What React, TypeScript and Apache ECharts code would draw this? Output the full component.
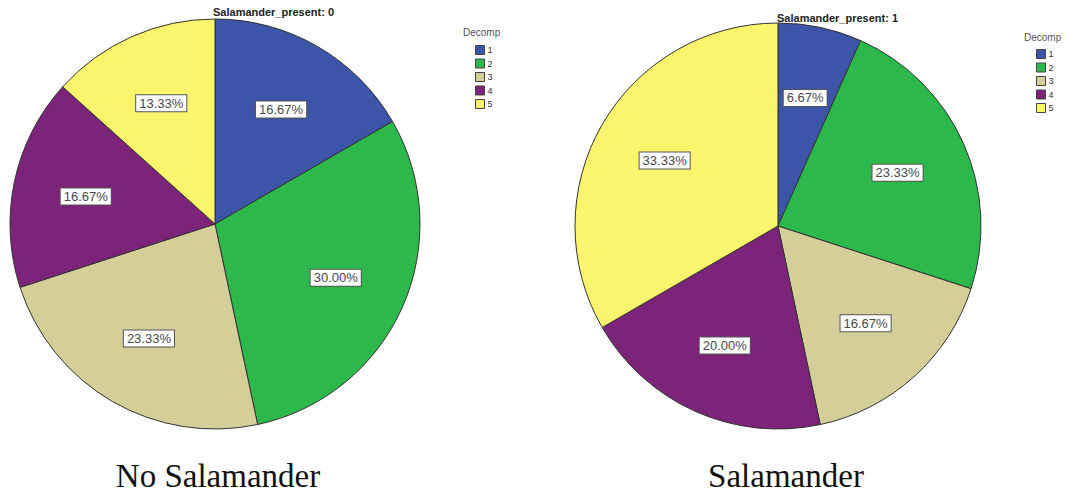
import React, { useEffect, useRef } from "react";
import * as echarts from "echarts";

const categories = ["1", "2", "3", "4", "5"];
const colors = ["#3D55A8", "#2DB84B", "#D4CF98", "#7C2479", "#FBF56D"];
const countsNoSalamander = [5, 9, 7, 5, 4];
const countsSalamander = [2, 7, 5, 6, 10];
const panelTitles = ["Salamander_present: 0", "Salamander_present: 1"];
const captions = ["No Salamander", "Salamander"];
const legendTitle = "Decomp";

function buildData(vals: number[]) {
  return categories.map((c, i) => ({
    name: c,
    value: vals[i],
    itemStyle: { color: colors[i] },
  }));
}

function labelFormatter(p: any) {
  return p.percent.toFixed(2) + "%";
}

function pieSeries(vals: number[], center: [number, number], r: number) {
  const main = {
    type: "pie",
    center,
    radius: r,
    startAngle: 90,
    clockwise: true,
    silent: true,
    label: { show: false },
    labelLine: { show: false },
    itemStyle: { borderColor: "#333", borderWidth: 1 },
    emphasis: { disabled: true },
    data: buildData(vals),
  };
  const labels = {
    type: "pie",
    center,
    radius: r * 1.26,
    startAngle: 90,
    clockwise: true,
    silent: true,
    z: 5,
    itemStyle: { color: "rgba(0,0,0,0)", borderWidth: 0 },
    emphasis: { disabled: true },
    labelLine: { show: false },
    label: {
      show: true,
      position: "inside",
      formatter: labelFormatter,
      fontFamily: "Liberation Sans, Arial, sans-serif",
      fontSize: 13,
      color: "#4a4a4a",
      backgroundColor: "#fff",
      borderColor: "#555",
      borderWidth: 1,
      padding: [2, 3, 1, 3],
    },
    data: categories.map((c, i) => ({ name: c, value: vals[i] })),
  };
  return [main, labels];
}

function legend(left: number, top: number) {
  return {
    orient: "vertical",
    left,
    top,
    data: categories,
    icon: "rect",
    itemWidth: 9,
    itemHeight: 9,
    itemGap: 3.5,
    selectedMode: false,
    padding: 0,
    textStyle: {
      fontSize: 9,
      color: "#333",
      fontFamily: "Liberation Sans, Arial, sans-serif",
      padding: [0, 0, 0, -2],
    },
    itemStyle: { borderColor: "#444", borderWidth: 1 },
  };
}

export default function App() {
  const ref = useRef<HTMLDivElement>(null);
  useEffect(() => {
    if (!ref.current) return;
    const chart = echarts.init(ref.current, undefined, { renderer: "svg" });
    const titleFont = {
      fontFamily: "Liberation Sans, Arial, sans-serif",
      fontSize: 11,
      fontWeight: "bold" as const,
      color: "#222",
    };
    const legendTitleFont = {
      fontFamily: "Liberation Sans, Arial, sans-serif",
      fontSize: 10,
      fontWeight: "normal" as const,
      color: "#555",
    };
    chart.setOption({
      animation: false,
      backgroundColor: "#fff",
      title: [
        { text: panelTitles[0], left: 213, top: 6, padding: 0, textStyle: titleFont },
        { text: panelTitles[1], left: 777, top: 12, padding: 0, textStyle: titleFont },
        { text: legendTitle, left: 463, top: 27, padding: 0, textStyle: legendTitleFont },
        { text: legendTitle, left: 1024, top: 32, padding: 0, textStyle: legendTitleFont },
      ],
      legend: [legend(475, 45), legend(1036, 49)],
      series: [
        ...pieSeries(countsNoSalamander, [215, 224], 205),
        ...pieSeries(countsSalamander, [778, 226], 203),
      ],
      graphic: [
        {
          type: "text",
          x: 218,
          y: 476,
          style: {
            text: captions[0],
            fontFamily: "Liberation Serif, Times New Roman, serif",
            fontSize: 33,
            fill: "#111",
            textAlign: "center",
            textVerticalAlign: "middle",
          },
        },
        {
          type: "text",
          x: 786,
          y: 476,
          style: {
            text: captions[1],
            fontFamily: "Liberation Serif, Times New Roman, serif",
            fontSize: 33,
            fill: "#111",
            textAlign: "center",
            textVerticalAlign: "middle",
          },
        },
      ],
    });
    return () => chart.dispose();
  }, []);
  return (
    <div
      ref={ref}
      style={{ position: "absolute", left: 0, top: 0, width: 1069, height: 494 }}
    />
  );
}
